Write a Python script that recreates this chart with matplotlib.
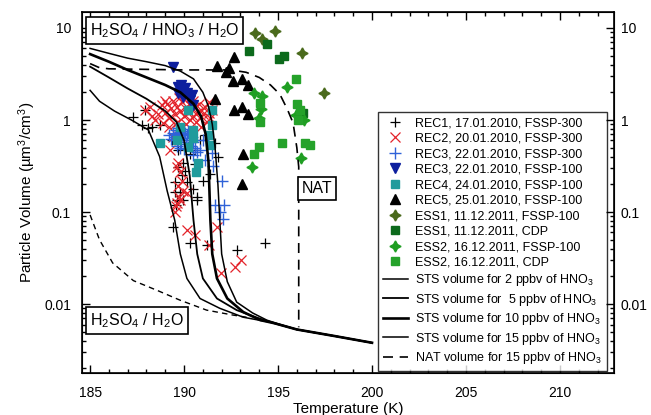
import matplotlib
matplotlib.use("Agg")
import matplotlib.pyplot as plt
from matplotlib.ticker import LogLocator, MultipleLocator, NullFormatter

plt.rcParams["font.family"] = ["Liberation Sans", "DejaVu Sans"]
plt.rcParams["mathtext.fontset"] = "custom"
plt.rcParams["mathtext.rm"] = "Liberation Sans"
plt.rcParams["mathtext.it"] = "Liberation Sans"

# --- model curves (temperature K, volume um3/cm3) ---
sts2_t = [185, 185.5, 186.3, 187.2, 188.1, 188.7, 189.1, 189.5, 189.8, 190.15, 190.85, 191.9, 193.15, 194.5, 196, 198, 200]
sts2_v = [2.1, 1.6, 1.25, 1.0, 0.78, 0.4, 0.17, 0.082, 0.035, 0.019, 0.0115, 0.009, 0.0072, 0.0064, 0.0053, 0.0045, 0.0038]

sts5_t = [185, 186, 187, 188, 189, 189.6, 190.0, 190.3, 190.5, 190.7, 191.0, 191.75, 192.8, 193.9, 194.7, 196, 198, 200]
sts5_v = [3.8, 2.9, 2.2, 1.7, 1.25, 0.95, 0.6, 0.25, 0.082, 0.035, 0.019, 0.0115, 0.0086, 0.0071, 0.0063, 0.0053, 0.0045, 0.0038]

sts10_t = [185, 186, 187, 188, 189, 189.8, 190.5, 190.9, 191.15, 191.3, 191.4, 191.5, 191.75, 192.3, 193.15, 194.05, 194.8, 196, 198, 200]
sts10_v = [5.2, 4.3, 3.5, 2.9, 2.4, 2.0, 1.5, 1.1, 0.7, 0.35, 0.082, 0.035, 0.019, 0.0115, 0.0082, 0.0067, 0.0062, 0.0053, 0.0045, 0.0038]

sts15_t = [185, 186, 187, 188, 189, 189.8, 190.5, 191.0, 191.3, 191.5, 191.65, 191.8, 191.9, 192.0, 192.3, 192.8, 193.65, 194.4, 195, 196, 198, 200]
sts15_v = [6.0, 5.3, 4.7, 4.3, 3.9, 3.4, 2.8, 2.0, 1.4, 0.9, 0.5, 0.2, 0.082, 0.035, 0.0175, 0.0105, 0.0080, 0.0067, 0.0061, 0.0053, 0.0045, 0.0038]

nat_t = [185, 185.5, 186, 188, 190, 192.5, 193.3, 194.0, 194.6, 195.1, 195.5, 195.8, 196.0, 196.1, 196.1]
nat_v = [4.1, 3.7, 3.6, 3.55, 3.5, 3.5, 3.3, 2.9, 2.4, 1.9, 1.3, 0.93, 0.5, 0.31, 0.0056]

binary_t = [185, 185.5, 186.2, 187.3, 188.6, 189.8, 191.2, 192.6, 193.5]
binary_v = [0.093, 0.05, 0.028, 0.018, 0.014, 0.011, 0.0086, 0.0076, 0.0071]

# --- observations ---
rec1_t = [187.3, 187.75, 188.3, 188.7, 189.95, 189.7, 190.15, 189.5, 189.8, 190.7, 189.6, 191.65, 191.8, 191.0,
          189.4, 190.3, 191.2, 192.8, 194.3, 190.5, 190.7, 190.05, 190.3, 190.6, 190.85, 191.1, 189.7, 189.35,
          189.5, 189.9, 189.55, 189.95, 191.4, 190.6, 187.9, 188.1]
rec1_v = [1.08, 0.88, 0.84, 0.88, 0.34, 0.31, 0.21, 0.165, 0.165, 0.135, 0.135, 0.56, 0.40, 0.22,
          0.069, 0.046, 0.044, 0.039, 0.046, 0.18, 0.146, 0.28, 0.43, 0.47, 0.61, 0.69, 0.47, 0.61,
          0.21, 0.25, 0.12, 0.135, 0.26, 0.33, 1.28, 0.82]

rec2_t = [187.9, 188.2, 188.45, 188.9, 188.6, 188.3,
          188.8, 189.0, 189.1, 189.2, 189.3, 189.4, 189.5, 189.6, 189.7, 189.8, 189.9, 190.0, 190.05, 190.1,
          190.2, 190.25, 190.3, 190.4, 190.45, 190.5, 190.6, 190.65, 190.7, 190.8, 190.85, 190.9, 191.0, 191.1,
          191.2, 191.3, 191.4, 191.5, 189.2, 189.5, 190.0, 189.75, 190.35, 190.9, 191.35, 189.0,
          189.4, 189.25, 189.6, 189.8, 189.7, 189.95, 189.8, 190.15, 189.65, 189.5, 189.7, 189.9, 190.15,
          190.6, 191.3, 191.75, 192.7, 193.05, 191.95, 189.55, 189.75]
rec2_v = [1.28, 1.38, 1.0, 0.93, 1.15, 1.1,
          1.45, 1.2, 1.5, 1.05, 1.35, 1.6, 1.15, 1.4, 0.95, 1.25, 1.55, 1.1, 1.35, 0.9,
          1.2, 1.5, 1.0, 1.3, 1.6, 1.1, 1.4, 0.95, 1.2, 1.5, 1.05, 1.3, 1.15, 1.4,
          0.95, 1.2, 1.05, 1.3, 0.85, 0.9, 1.7, 1.75, 1.8, 0.85, 1.55, 1.6,
          0.65, 0.47, 0.31, 0.27, 0.19, 0.17, 0.135, 0.16, 0.125, 0.1, 0.34, 0.22, 0.064,
          0.056, 0.044, 0.069, 0.025, 0.030, 0.022, 0.115, 0.145]

rec3a_t = [191.5, 191.55, 191.1, 192.0, 191.65, 192.15, 192.05, 191.9, 190.85, 191.0,
           189.4, 189.5, 189.55, 189.6, 189.65, 189.7, 189.75, 189.8, 189.85, 189.9, 189.95, 190.0, 190.05,
           190.1, 190.15, 190.2, 190.25, 190.3, 190.35, 190.4, 190.5, 190.6, 190.7, 189.6, 189.8, 190.0, 190.45,
           189.2, 189.3]
rec3a_v = [0.44, 0.32, 0.37, 0.22, 0.12, 0.12, 0.084, 0.1, 0.47, 0.61,
           0.72, 0.65, 0.78, 0.7, 0.6, 0.82, 0.66, 0.74, 0.58, 0.69, 0.8, 0.63, 0.72,
           0.55, 0.68, 0.76, 0.6, 0.7, 0.52, 0.65, 0.58, 0.5, 0.45, 0.52, 0.5, 0.48, 0.42,
           0.68, 0.62]

rec3b_t = [189.4, 189.7, 189.9, 190.15, 190.4, 189.95, 190.3, 190.5, 189.7, 190.05, 189.85]
rec3b_v = [3.8, 2.3, 2.1, 1.96, 1.87, 1.78, 1.65, 1.46, 1.96, 2.2, 2.4]

rec4_t = [190.2, 191.5, 189.8, 190.5, 191.3, 190.5, 188.7, 191.4, 190.2, 190.75, 190.65, 191.5, 189.6]
rec4_v = [1.28, 1.28, 0.84, 0.78, 0.69, 0.64, 0.56, 0.53, 0.51, 0.34, 0.27, 0.88, 0.61]

rec5_t = [192.65, 191.75, 192.4, 192.25, 192.6, 193.1, 193.4, 191.65, 192.65, 193.1, 193.4, 193.15, 193.1]
rec5_v = [4.8, 3.9, 3.7, 3.3, 2.65, 2.8, 2.4, 1.69, 1.28, 1.38, 1.16, 0.43, 0.20]

ess1a_t = [193.8, 194.85, 194.15, 196.3, 197.45]
ess1a_v = [8.8, 9.3, 7.6, 5.3, 1.96]

ess1b_t = [193.45, 194.4, 195.05, 195.3, 196.35]
ess1b_v = [5.6, 6.7, 4.6, 5.0, 1.19]

ess2a_t = [193.7, 194.15, 195.5, 194.1, 194.0, 195.95, 196.4, 196.2, 193.6]
ess2a_v = [1.96, 1.82, 2.3, 1.32, 1.05, 1.13, 1.0, 0.39, 0.31]

ess2b_t = [195.95, 194.05, 194.05, 196.0, 196.05, 196.45, 196.7, 195.2, 194.0, 193.7, 196.15]
ess2b_v = [2.8, 1.53, 0.95, 1.49, 1.0, 0.56, 0.53, 0.56, 0.51, 0.43, 1.28]

fig = plt.figure(figsize=(6.51, 4.15), dpi=100)
ax = fig.add_axes([0.126, 0.101, 0.817, 0.870])

star = (4, 1, 0)
ax.plot(rec1_t, rec1_v, ls="none", marker="+", ms=7, mew=0.9, color="black", label="REC1, 17.01.2010, FSSP-300")
ax.plot(rec2_t, rec2_v, ls="none", marker="x", ms=6.5, mew=0.9, color="#e3232a", label="REC2, 20.01.2010, FSSP-300")
ax.plot(rec3a_t, rec3a_v, ls="none", marker="+", ms=8, mew=1.0, color="#2f62d8", label="REC3, 22.01.2010, FSSP-300")
ax.plot(rec3b_t, rec3b_v, ls="none", marker="v", ms=7, color="#0d1f9e", label="REC3, 22.01.2010, FSSP-100")
ax.plot(rec4_t, rec4_v, ls="none", marker="s", ms=5.5, color="#1f9b9c", label="REC4, 24.01.2010, FSSP-100")
ax.plot(rec5_t, rec5_v, ls="none", marker="^", ms=7, color="black", label="REC5, 25.01.2010, FSSP-100")
ax.plot(ess1a_t, ess1a_v, ls="none", marker=star, ms=8, color="#4a6a1c", label="ESS1, 11.12.2011, FSSP-100")
ax.plot(ess1b_t, ess1b_v, ls="none", marker="s", ms=6, color="#0c6a1c", label="ESS1, 11.12.2011, CDP")
ax.plot(ess2a_t, ess2a_v, ls="none", marker=star, ms=8, color="#1f9e22", label="ESS2, 16.12.2011, FSSP-100")
ax.plot(ess2b_t, ess2b_v, ls="none", marker="s", ms=6, color="#25a22a", label="ESS2, 16.12.2011, CDP")

ax.plot(sts2_t, sts2_v, color="black", lw=1.1, label="STS volume for 2 ppbv of HNO$_3$")
ax.plot(sts5_t, sts5_v, color="black", lw=1.3, label="STS volume for  5 ppbv of HNO$_3$")
ax.plot(sts10_t, sts10_v, color="black", lw=1.9, label="STS volume for 10 ppbv of HNO$_3$")
ax.plot(sts15_t, sts15_v, color="black", lw=1.1, label="STS volume for 15 ppbv of HNO$_3$")
ax.plot(nat_t, nat_v, color="black", lw=1.2, dashes=(6, 4), label="NAT volume for 15 ppbv of HNO$_3$")
ax.plot(binary_t, binary_v, color="black", lw=1.0, dashes=(4, 3))

ax.set_yscale("log")
ax.set_xlim(184.57, 212.87)
ax.set_ylim(0.00178, 14.9)
ax.set_xticks([185, 190, 195, 200, 205, 210])
ax.xaxis.set_minor_locator(MultipleLocator(1))
ax.set_yticks([0.01, 0.1, 1, 10])
ax.set_yticklabels(["0.01", "0.1", "1", "10"])
ax.yaxis.set_minor_locator(LogLocator(base=10, subs=range(2, 10)))
ax.yaxis.set_minor_formatter(NullFormatter())
ax.tick_params(which="both", direction="in", top=True, right=True, labelsize=10, width=1)
ax.tick_params(which="major", length=6)
ax.tick_params(which="minor", length=3)
ax.tick_params(axis="x", pad=9)
ax.tick_params(axis="y", pad=8)
for s in ax.spines.values():
    s.set_linewidth(1.2)

axr = ax.twinx()
axr.set_yscale("log")
axr.set_ylim(ax.get_ylim())
axr.set_yticks([0.01, 0.1, 1, 10])
axr.set_yticklabels(["0.01", "0.1", "1", "10"])
axr.yaxis.set_minor_locator(LogLocator(base=10, subs=range(2, 10)))
axr.yaxis.set_minor_formatter(NullFormatter())
axr.tick_params(which="both", direction="in", labelsize=10, width=1, pad=5)
axr.tick_params(which="major", length=6)
axr.tick_params(which="minor", length=3)

ax.set_xlabel("Temperature (K)", fontsize=11, labelpad=2)
ax.set_ylabel("Particle Volume (µm$^3$/cm$^3$)", fontsize=11, labelpad=4)

box = dict(boxstyle="square,pad=0.25", facecolor="white", edgecolor="black", linewidth=1.2)
ax.text(0.015, 0.975, "H$_2$SO$_4$ / HNO$_3$ / H$_2$O", transform=ax.transAxes, fontsize=11.5,
        va="top", ha="left", bbox=box)
ax.text(0.015, 0.12, "H$_2$SO$_4$ / H$_2$O", transform=ax.transAxes, fontsize=11.5,
        va="bottom", ha="left", bbox=box)
ax.text(0.442, 0.51, "NAT", transform=ax.transAxes, fontsize=11.5, va="center", ha="center", bbox=box)

leg = ax.legend(loc="upper right", bbox_to_anchor=(0.987, 0.723), borderaxespad=0, fontsize=9,
                frameon=True, fancybox=False, edgecolor="black", labelspacing=0.28,
                handlelength=2.0, handletextpad=0.6, borderpad=0.4)
leg.get_frame().set_linewidth(1.0)

fig.savefig("out.png", dpi=100)
